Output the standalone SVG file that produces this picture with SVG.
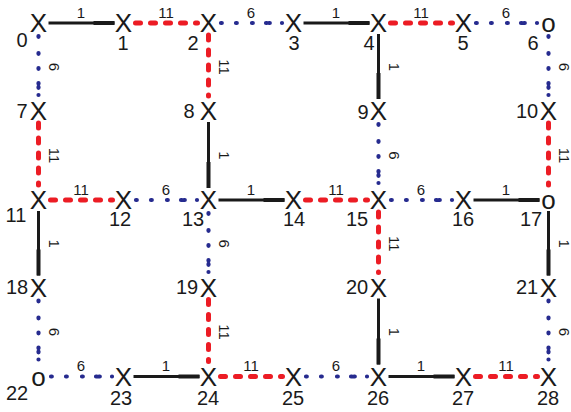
<svg xmlns="http://www.w3.org/2000/svg" width="571" height="412" viewBox="0 0 571 412">
  <style>
    text { font-family: "Liberation Sans", Arial, Helvetica, sans-serif; fill: #1a1a1a; }
    .mk { font-size: 26px; text-anchor: middle; }
    .nl { font-size: 20px; text-anchor: middle; }
    .el { font-size: 15px; text-anchor: middle; }
    .k { stroke: #1a1a1a; stroke-width: 3; fill: none; }
    .kk { stroke: #1a1a1a; stroke-width: 4; fill: none; }
    .r { stroke: #ec1c24; stroke-width: 5; stroke-dasharray: 5 10; stroke-linecap: round; fill: none; }
    .bh { stroke: #262b8f; stroke-width: 4.2; stroke-linecap: round; stroke-dasharray: 0.8 14.2 0.8 15.2 0.8 13.2 0.8 2.2 0.8 12.2 0 200; fill: none; }
    .bv { stroke: #262b8f; stroke-width: 4.2; stroke-linecap: round; stroke-dasharray: 0.8 16.2 0.8 14.2 0.8 14.2 0.8 3.2 0.8 7.2 0 200; fill: none; }
  </style>

  <!-- connectors: weight 1 = solid black, 11 = red dashes, 6 = blue dots -->
  <g id="connectors">
    <!-- row 0 -->
    <line class="k" x1="48.5" y1="23" x2="114.5" y2="23"/><line class="kk" x1="93.5" y1="23" x2="114.5" y2="23"/>
    <line class="r" x1="135.5" y1="23" x2="197.5" y2="23"/>
    <line class="bh" x1="221" y1="23" x2="283.5" y2="23"/>
    <line class="k" x1="303.5" y1="23" x2="369.5" y2="23"/><line class="kk" x1="348.5" y1="23" x2="369.5" y2="23"/>
    <line class="r" x1="390.5" y1="23" x2="452.5" y2="23"/>
    <line class="bh" x1="476" y1="23" x2="538.5" y2="23"/>
    <!-- row 2 -->
    <line class="r" x1="50.5" y1="200" x2="112.5" y2="200"/>
    <line class="bh" x1="136" y1="200" x2="198.5" y2="200"/>
    <line class="k" x1="218.5" y1="200" x2="284.5" y2="200"/><line class="kk" x1="263.5" y1="200" x2="284.5" y2="200"/>
    <line class="r" x1="305.5" y1="200" x2="367.5" y2="200"/>
    <line class="bh" x1="391" y1="200" x2="453.5" y2="200"/>
    <line class="k" x1="473.5" y1="200" x2="539.5" y2="200"/><line class="kk" x1="518.5" y1="200" x2="539.5" y2="200"/>
    <!-- row 4 -->
    <line class="bh" x1="51" y1="376.5" x2="113.5" y2="376.5"/>
    <line class="k" x1="133.5" y1="376.5" x2="199.5" y2="376.5"/><line class="kk" x1="178.5" y1="376.5" x2="199.5" y2="376.5"/>
    <line class="r" x1="220.5" y1="376.5" x2="282.5" y2="376.5"/>
    <line class="bh" x1="306" y1="376.5" x2="368.5" y2="376.5"/>
    <line class="k" x1="388.5" y1="376.5" x2="454.5" y2="376.5"/><line class="kk" x1="433.5" y1="376.5" x2="454.5" y2="376.5"/>
    <line class="r" x1="475.5" y1="376.5" x2="537.5" y2="376.5"/>
    <!-- column 0 -->
    <line class="bv" x1="38.5" y1="36" x2="38.5" y2="96"/>
    <line class="r" x1="38.5" y1="123" x2="38.5" y2="185"/>
    <line class="k" x1="38.5" y1="211" x2="38.5" y2="275.5"/><line class="kk" x1="38.5" y1="249.5" x2="38.5" y2="275.5"/>
    <line class="bv" x1="38.5" y1="300.5" x2="38.5" y2="361.5"/>
    <!-- column 2 -->
    <line class="r" x1="208.5" y1="35" x2="208.5" y2="96"/>
    <line class="k" x1="208.5" y1="122" x2="208.5" y2="188"/><line class="kk" x1="208.5" y1="162" x2="208.5" y2="188"/>
    <line class="bv" x1="208.5" y1="213" x2="208.5" y2="272.5"/>
    <line class="r" x1="208.5" y1="299.5" x2="208.5" y2="361.5"/>
    <!-- column 4 -->
    <line class="k" x1="378.5" y1="34" x2="378.5" y2="99"/><line class="kk" x1="378.5" y1="73" x2="378.5" y2="99"/>
    <line class="bv" x1="378.5" y1="124" x2="378.5" y2="185"/>
    <line class="r" x1="378.5" y1="212" x2="378.5" y2="272.5"/>
    <line class="k" x1="378.5" y1="298.5" x2="378.5" y2="364.5"/><line class="kk" x1="378.5" y1="338.5" x2="378.5" y2="364.5"/>
    <!-- column 6 -->
    <line class="bv" x1="548.5" y1="36" x2="548.5" y2="96"/>
    <line class="r" x1="548.5" y1="123" x2="548.5" y2="185"/>
    <line class="k" x1="548.5" y1="211" x2="548.5" y2="275.5"/><line class="kk" x1="548.5" y1="249.5" x2="548.5" y2="275.5"/>
    <line class="bv" x1="548.5" y1="300.5" x2="548.5" y2="361.5"/>

    <!-- edge weights -->
    <g id="edge-labels">
      <text class="el" x="81" y="17.5">1</text>
      <text class="el" x="166" y="17.5">11</text>
      <text class="el" x="251" y="17.5">6</text>
      <text class="el" x="336" y="17.5">1</text>
      <text class="el" x="421" y="17.5">11</text>
      <text class="el" x="506" y="17.5">6</text>

      <text class="el" x="81" y="194.5">11</text>
      <text class="el" x="166" y="194.5">6</text>
      <text class="el" x="251" y="194.5">1</text>
      <text class="el" x="336" y="194.5">11</text>
      <text class="el" x="421" y="194.5">6</text>
      <text class="el" x="506" y="194.5">1</text>

      <text class="el" x="81" y="371">6</text>
      <text class="el" x="166" y="371">1</text>
      <text class="el" x="251" y="371">11</text>
      <text class="el" x="336" y="371">6</text>
      <text class="el" x="421" y="371">1</text>
      <text class="el" x="506" y="371">11</text>

      <text class="el" transform="translate(49,67) rotate(90)">6</text>
      <text class="el" transform="translate(49,155.5) rotate(90)">11</text>
      <text class="el" transform="translate(49,243.75) rotate(90)">1</text>
      <text class="el" transform="translate(49,332) rotate(90)">6</text>

      <text class="el" transform="translate(219,67) rotate(90)">11</text>
      <text class="el" transform="translate(219,155.5) rotate(90)">1</text>
      <text class="el" transform="translate(219,243.75) rotate(90)">6</text>
      <text class="el" transform="translate(219,332) rotate(90)">11</text>

      <text class="el" transform="translate(389,67) rotate(90)">1</text>
      <text class="el" transform="translate(389,155.5) rotate(90)">6</text>
      <text class="el" transform="translate(389,243.75) rotate(90)">11</text>
      <text class="el" transform="translate(389,332) rotate(90)">1</text>

      <text class="el" transform="translate(558.5,67) rotate(90)">6</text>
      <text class="el" transform="translate(558.5,155.5) rotate(90)">11</text>
      <text class="el" transform="translate(558.5,243.75) rotate(90)">1</text>
      <text class="el" transform="translate(558.5,332) rotate(90)">6</text>
    </g>
  </g>

  <!-- nodes: marker glyph plus index -->
  <g id="n0"><text class="mk" x="38.5" y="32.3">X</text><text class="nl" x="22" y="47">0</text></g>
  <g id="n1"><text class="mk" x="123.5" y="32.3">X</text><text class="nl" x="123" y="50">1</text></g>
  <g id="n2"><text class="mk" x="208.5" y="32.3">X</text><text class="nl" x="193" y="50">2</text></g>
  <g id="n3"><text class="mk" x="293.5" y="32.3">X</text><text class="nl" x="294" y="50">3</text></g>
  <g id="n4"><text class="mk" x="378.5" y="32.3">X</text><text class="nl" x="369" y="50">4</text></g>
  <g id="n5"><text class="mk" x="463.5" y="32.3">X</text><text class="nl" x="463" y="50">5</text></g>
  <g id="n6"><text class="mk" x="548.5" y="32.3">o</text><text class="nl" x="533" y="50">6</text></g>

  <g id="n7"><text class="mk" x="38.5" y="120.3">X</text><text class="nl" x="22" y="118">7</text></g>
  <g id="n8"><text class="mk" x="208.5" y="120.3">X</text><text class="nl" x="189" y="118">8</text></g>
  <g id="n9"><text class="mk" x="378.5" y="120.3">X</text><text class="nl" x="363" y="119">9</text></g>
  <g id="n10"><text class="mk" x="548.5" y="120.3">X</text><text class="nl" x="527" y="118">10</text></g>

  <g id="n11"><text class="mk" x="38.5" y="209.3">X</text><text class="nl" x="16" y="222">11</text></g>
  <g id="n12"><text class="mk" x="123.5" y="209.3">X</text><text class="nl" x="120" y="226">12</text></g>
  <g id="n13"><text class="mk" x="208.5" y="209.3">X</text><text class="nl" x="193" y="226">13</text></g>
  <g id="n14"><text class="mk" x="293.5" y="209.3">X</text><text class="nl" x="294" y="226">14</text></g>
  <g id="n15"><text class="mk" x="378.5" y="209.3">X</text><text class="nl" x="357" y="226">15</text></g>
  <g id="n16"><text class="mk" x="463.5" y="209.3">X</text><text class="nl" x="463" y="226">16</text></g>
  <g id="n17"><text class="mk" x="548.5" y="209.3">o</text><text class="nl" x="531" y="226">17</text></g>

  <g id="n18"><text class="mk" x="38.5" y="296.8">X</text><text class="nl" x="17" y="294">18</text></g>
  <g id="n19"><text class="mk" x="208.5" y="296.8">X</text><text class="nl" x="187" y="294">19</text></g>
  <g id="n20"><text class="mk" x="378.5" y="296.8">X</text><text class="nl" x="357" y="294">20</text></g>
  <g id="n21"><text class="mk" x="548.5" y="296.8">X</text><text class="nl" x="527" y="294">21</text></g>

  <g id="n22"><text class="mk" x="38.5" y="385.8">o</text><text class="nl" x="17" y="400">22</text></g>
  <g id="n23"><text class="mk" x="123.5" y="385.8">X</text><text class="nl" x="121" y="405">23</text></g>
  <g id="n24"><text class="mk" x="208.5" y="385.8">X</text><text class="nl" x="208" y="405">24</text></g>
  <g id="n25"><text class="mk" x="293.5" y="385.8">X</text><text class="nl" x="293" y="405">25</text></g>
  <g id="n26"><text class="mk" x="378.5" y="385.8">X</text><text class="nl" x="378" y="405">26</text></g>
  <g id="n27"><text class="mk" x="463.5" y="385.8">X</text><text class="nl" x="463" y="405">27</text></g>
  <g id="n28"><text class="mk" x="548.5" y="385.8">X</text><text class="nl" x="548" y="405">28</text></g>
</svg>
